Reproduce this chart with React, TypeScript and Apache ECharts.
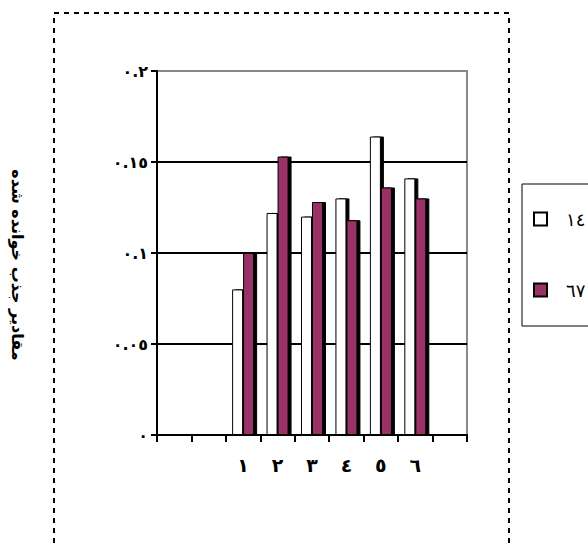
import React, { useEffect, useRef } from "react";
import * as echarts from "echarts";

const categories = ["", " ", "١", "٢", "٣", "٤", "٥", "٦", "  "];
const seriesNames = ["١٤", "٦٧"];
const series1 = [null, null, 0.080, 0.122, 0.120, 0.130, 0.164, 0.141, null];
const series2 = [null, null, 0.100, 0.153, 0.128, 0.118, 0.136, 0.130, null];
const yTickLabels = ["٠", "٠.٠٥", "٠.١", "٠.١٥", "٠.٢"];
const yTitle = "مقادير جذب خوانده شده";

const FONT = "DejaVu Sans";

export default function App() {
  const ref = useRef<HTMLDivElement>(null);
  useEffect(() => {
    const chart = echarts.init(ref.current!, null, { renderer: "svg" });
    const barStyle = (color: string) => ({
      color,
      borderColor: "#000",
      borderWidth: 1,
      shadowColor: "#000",
      shadowOffsetX: 3,
      shadowOffsetY: 0,
      shadowBlur: 0,
    });
    chart.setOption({
      animation: false,
      backgroundColor: "#fff",
      grid: {
        left: 157,
        top: 71,
        width: 310,
        height: 364,
        show: true,
        borderColor: "#888",
        borderWidth: 2,
        backgroundColor: "transparent",
      },
      legend: {
        orient: "vertical",
        left: 522,
        top: 184,
        itemWidth: 13,
        itemHeight: 13,
        itemGap: 53,
        padding: [26, 60, 27, 11],
        borderColor: "#000",
        borderWidth: 1,
        icon: "rect",
        textStyle: { fontSize: 18, fontFamily: FONT, color: "#000", padding: [0, 0, 0, 14] },
        data: seriesNames,
      },
      xAxis: {
        type: "category",
        data: categories,
        boundaryGap: true,
        axisLine: { show: true, lineStyle: { color: "#000", width: 2 } },
        axisTick: {
          show: true,
          interval: 0,
          inside: false,
          alignWithLabel: false,
          length: 7,
          lineStyle: { color: "#000", width: 2 },
        },
        axisLabel: {
          interval: 0,
          margin: 20,
          fontSize: 19,
          fontWeight: "bold",
          fontFamily: FONT,
          color: "#000",
        },
        splitLine: { show: false },
      },
      yAxis: {
        type: "value",
        min: 0,
        max: 0.2,
        interval: 0.05,
        axisLine: { show: true, lineStyle: { color: "#000", width: 2 } },
        axisTick: { show: true, inside: false, length: 6, lineStyle: { color: "#000", width: 2 } },
        axisLabel: {
          margin: 9,
          fontSize: 16,
          fontWeight: "bold",
          fontFamily: FONT,
          color: "#000",
          formatter: (_v: number, i: number) => yTickLabels[i],
        },
        splitLine: {
          show: true,
          lineStyle: { color: ["#000", "#000", "#000", "#000", "#888"], width: 2 },
        },
      },
      graphic: [
        {
          type: "rect",
          shape: { x: 54, y: 13, width: 455, height: 600 },
          style: { fill: "none", stroke: "#000", lineWidth: 2, lineDash: [5, 5] },
          silent: true,
        },
        {
          type: "text",
          x: 17,
          y: 265,
          rotation: -Math.PI / 2,
          style: {
            text: yTitle,
            fontSize: 16,
            fontWeight: "bold",
            fontFamily: FONT,
            fill: "#000",
            align: "center",
            verticalAlign: "middle",
          },
        },
      ],
      series: [
        {
          name: seriesNames[0],
          type: "bar",
          data: series1,
          barWidth: 11,
          barGap: "0%",
          itemStyle: barStyle("#ffffff"),
        },
        {
          name: seriesNames[1],
          type: "bar",
          data: series2,
          barWidth: 11,
          barGap: "0%",
          itemStyle: barStyle("#993366"),
        },
      ],
    });
    return () => chart.dispose();
  }, []);
  return (
    <div
      ref={ref}
      style={{ position: "fixed", left: 0, top: 0, width: 588, height: 547 }}
    />
  );
}
